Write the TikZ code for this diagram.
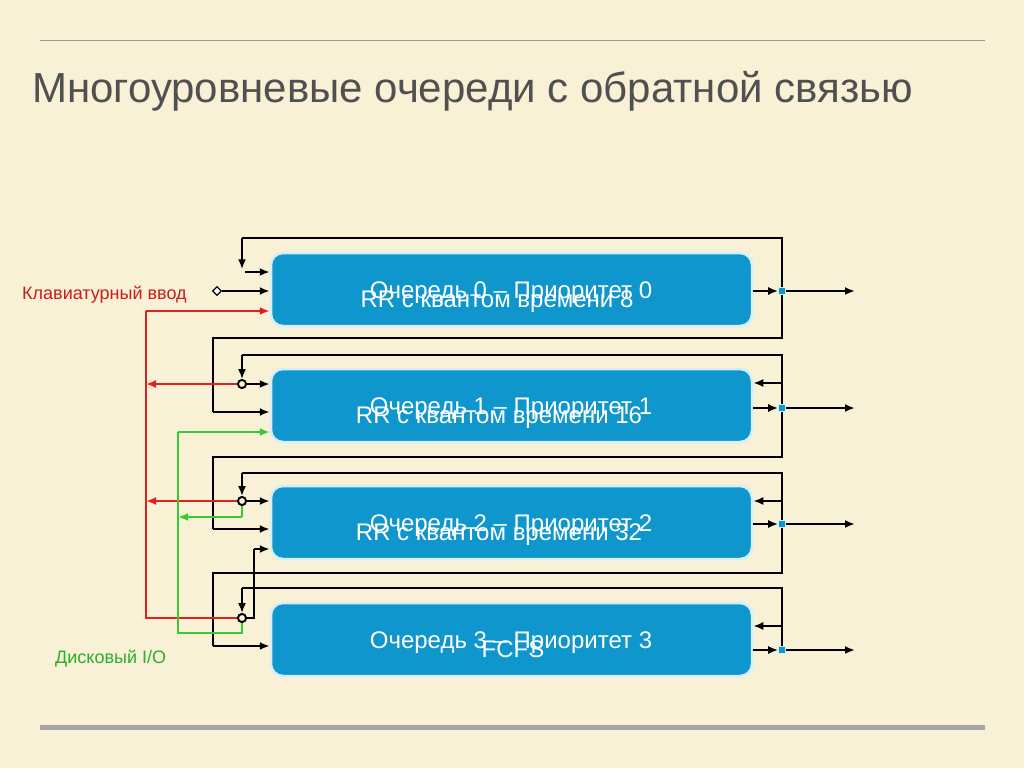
\documentclass[tikz,border=0pt]{standalone}
\usepackage{fontspec}
\setmainfont{Liberation Sans}
\usetikzlibrary{arrows.meta,shapes.geometric}
\definecolor{bg}{RGB}{248,241,214}
\definecolor{qblue}{RGB}{14,150,205}
\definecolor{qedge}{RGB}{214,238,248}
\definecolor{kred}{RGB}{226,30,30}
\definecolor{dgreen}{RGB}{50,205,50}
\definecolor{titlegray}{RGB}{80,80,80}
\begin{document}
\begin{tikzpicture}[x=1pt,y=-1pt,
  queue/.style={draw=qedge,line width=2.5pt,fill=qblue,rounded corners=12pt,
    minimum width=481pt,minimum height=73pt,inner sep=0pt},
  qtext/.style={text=white,font=\fontsize{24}{28}\selectfont,anchor=base,inner sep=0pt},
  frame/.style={line width=1.3pt,black},
  arr/.style={line width=2.2pt,black,-{Latex[length=10pt,width=8pt]}},
  redarr/.style={line width=2.6pt,kred,-{Latex[length=10pt,width=8pt]}},
  redline/.style={line width=1.3pt,kred},
  grnarr/.style={line width=2.6pt,dgreen,-{Latex[length=10pt,width=8pt]}},
  grnline/.style={line width=1.3pt,dgreen},
  outsq/.style={fill=qblue,draw=qedge,line width=0.6pt,minimum size=7pt,inner sep=0pt},
  junc/.style={circle,draw=black,fill=bg,line width=1.8pt,minimum size=8pt,inner sep=0pt},
  lbl/.style={font=\fontsize{18}{22}\selectfont,anchor=base west,inner sep=0pt}
]
\useasboundingbox (0,0) rectangle (1024,768);
\fill[bg] (0,0) rectangle (1024,768);
% rules
\draw[line width=0.8pt,black!40] (40,40) -- (985,40);
\draw[line width=5pt,black!35] (40,727) -- (985,727);
% title
\node[anchor=base west,inner sep=0pt,text=titlegray,font=\fontsize{42}{48}\selectfont] (title) at (32,102) {Многоуровневые очереди с обратной связью};

% queues
\node[queue] (q0) at (511.5,289.5) {};
\node[queue] (q1) at (511.5,405.5) {};
\node[queue] (q2) at (511.5,522.5) {};
\node[queue] (q3) at (511.5,639.5) {};

\node[qtext] (t0a) at (511,298) {Очередь 0 – Приоритет 0};
\node[qtext] (t0b) at (497,307) {RR с квантом времени 8};
\node[qtext] (t1a) at (511,414) {Очередь 1 – Приоритет 1};
\node[qtext] (t1b) at (499,423) {RR с квантом времени 16};
\node[qtext] (t2a) at (511,531) {Очередь 2 – Приоритет 2};
\node[qtext] (t2b) at (499,540) {RR с квантом времени 32};
\node[qtext] (t3a) at (511,648) {Очередь 3 – Приоритет 3};
\node[qtext] (t3b) at (513,657) {FCFS};

% labels
\node[lbl,text=kred!90!black] (kbd) at (22,299) {Клавиатурный ввод};
\node[lbl,text=dgreen!85!black] (disk) at (55,663) {Дисковый I/O};

% output squares
\node[outsq] (s0) at (782,291) {};
\node[outsq] (s1) at (782,408) {};
\node[outsq] (s2) at (782,524) {};
\node[outsq] (s3) at (782,650) {};
\coordinate (o0) at (855,291);
\coordinate (o1) at (855,408);
\coordinate (o2) at (855,524);
\coordinate (o3) at (855,650);

% junctions
\node[inner sep=2.5pt] (j0) at (242,272) {};
\node[junc] (c1) at (242,384) {};
\node[junc] (c2) at (242,501) {};
\node[junc] (c3) at (242,618) {};
\node[diamond,draw=black,fill=white,line width=1.3pt,minimum size=9pt,inner sep=0pt] (d) at (217,291) {};

% corner coordinates
\coordinate (tr0) at (782,238); \coordinate (tl0) at (242,238);
\coordinate (tr1) at (782,355); \coordinate (tl1) at (242,355);
\coordinate (tr2) at (782,473); \coordinate (tl2) at (242,473);
\coordinate (tr3) at (782,588); \coordinate (tl3) at (242,588);
\coordinate (br0) at (782,338); \coordinate (bl0) at (213,338); \coordinate (bi0) at (213,412);
\coordinate (br1) at (782,457); \coordinate (bl1) at (213,457); \coordinate (bi1) at (213,529);
\coordinate (br2) at (782,573); \coordinate (bl2) at (213,573); \coordinate (bi2) at (213,646);
\coordinate (ri1) at (782,383);
\coordinate (ri2) at (782,501);
\coordinate (ri3) at (782,626);
\coordinate (up3) at (254,618); \coordinate (up2) at (254,549);
\coordinate (rt) at (146,311); \coordinate (rb) at (146,618);
\coordinate (r1) at (146,384); \coordinate (r2) at (146,501);
\coordinate (gt) at (178,432); \coordinate (gb) at (178,633); \coordinate (gc3) at (242,633);
\coordinate (g2) at (178,517); \coordinate (gc2) at (242,517);

% box -> square -> out
\foreach \i in {0,1,2,3}{
  \draw[arr] (q\i.east |- s\i) -- (s\i.west);
  \draw[arr] (s\i.east) -- (o\i);
}

% level 0
\draw[frame] (s0) -- (tr0) -- (tl0);
\draw[arr] (tl0) -- (j0);
\draw[arr] (j0) -- (j0 -| q0.west);
\draw[arr] (d) -- (d -| q0.west);
\draw[frame] (s0) -- (br0) -- (bl0) -- (bi0);
\draw[arr] (bi0) -- (bi0 -| q1.west);

% level 1
\draw[frame] (s1) -- (tr1) -- (tl1);
\draw[arr] (tl1) -- (c1);
\draw[arr] (c1) -- (c1 -| q1.west);
\draw[arr] (ri1) -- (ri1 -| q1.east);
\draw[frame] (s1) -- (br1) -- (bl1) -- (bi1);
\draw[arr] (bi1) -- (bi1 -| q2.west);

% level 2
\draw[frame] (s2) -- (tr2) -- (tl2);
\draw[arr] (tl2) -- (c2);
\draw[arr] (c2) -- (c2 -| q2.west);
\draw[arr] (ri2) -- (ri2 -| q2.east);
\draw[frame] (s2) -- (br2) -- (bl2) -- (bi2);
\draw[arr] (bi2) -- (bi2 -| q3.west);

% level 3
\draw[frame] (s3) -- (tr3) -- (tl3);
\draw[arr] (tl3) -- (c3);
\draw[arr] (ri3) -- (ri3 -| q3.east);
\draw[frame] (c3) -- (up3) -- (up2);
\draw[arr] (up2) -- (up2 -| q2.west);

% red (keyboard)
\draw[redarr] (rt) -- (rt -| q0.west);
\draw[redline] (rt) -- (rb) -- (c3);
\draw[redarr] (c1) -- (r1);
\draw[redarr] (c2) -- (r2);

% green (disk)
\draw[grnarr] (gt) -- (gt -| q1.west);
\draw[grnline] (gt) -- (gb) -- (gc3) -- (c3);
\draw[grnline,line width=2.6pt] (c2) -- (gc2);
\draw[grnarr] (gc2) -- (g2);

% redraw junctions and squares on top
\node[junc] at (c1) {};
\node[junc] at (c2) {};
\node[junc] at (c3) {};
\foreach \i in {0,1,2,3}{ \node[outsq] at (s\i) {}; }
\end{tikzpicture}
\end{document}
